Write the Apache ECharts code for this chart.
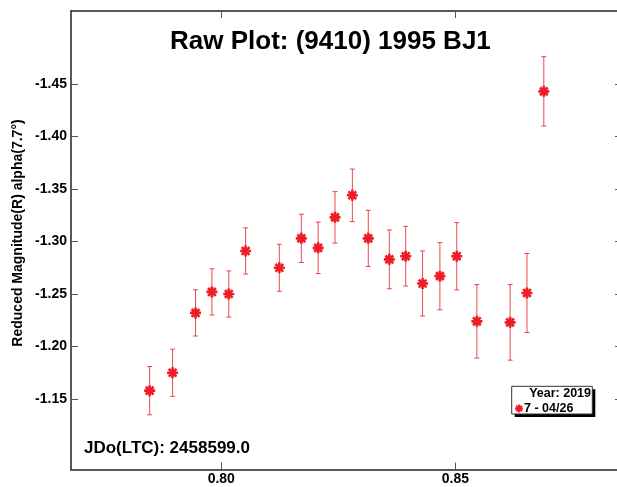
<!DOCTYPE html>
<html>
<head>
<meta charset="utf-8">
<script src="https://cdn.jsdelivr.net/npm/echarts@6/dist/echarts.min.js"></script>
<style>
  html, body { margin: 0; padding: 0; background: #fff; }
  #chart { width: 617px; height: 487px; }
</style>
</head>
<body>
<div id="chart"></div>
<script>
// phase (fraction of JD) and reduced magnitude
var phase = [0.7847, 0.7896, 0.7945, 0.7980, 0.8016, 0.8052, 0.8124, 0.8171, 0.8207, 0.8243, 0.8280,
             0.8314, 0.8359, 0.8394, 0.8430, 0.8467, 0.8503, 0.8546, 0.8617, 0.8653, 0.8689];
var mag = [-1.158, -1.175, -1.232, -1.252, -1.250, -1.291, -1.275, -1.303, -1.294, -1.323, -1.344,
           -1.303, -1.283, -1.286, -1.260, -1.267, -1.286, -1.224, -1.223, -1.251, -1.443];
var err = [0.023, 0.0225, 0.022, 0.022, 0.022, 0.022, 0.0224, 0.023, 0.0245, 0.0245, 0.025,
           0.0267, 0.028, 0.0284, 0.031, 0.032, 0.032, 0.035, 0.036, 0.0376, 0.033];
var yTicks = [-1.45, -1.40, -1.35, -1.30, -1.25, -1.20, -1.15];
var xTicks = [0.80, 0.85];

var starPath = 'path://M5,1.2L-5,1.2L-5,-1.2L5,-1.2Z' +
    'M-1.2,5L-1.2,-5L1.2,-5L1.2,5Z' +
    'M2.69,4.38L-4.38,-2.69L-2.69,-4.38L4.38,2.69Z' +
    'M-4.38,2.69L2.69,-4.38L4.38,-2.69L-2.69,4.38Z';
var red = '#ee1c25';
var font = '"Liberation Sans", Arial, sans-serif';

var points = [];
var bars = [];
for (var i = 0; i < phase.length; i++) {
    points.push([phase[i], mag[i]]);
    bars.push([phase[i], mag[i] - err[i], mag[i] + err[i]]);
}

var chart = echarts.init(document.getElementById('chart'));
var axisLine = { show: true, lineStyle: { color: '#222', width: 1.5 } };
var tick = { show: true, inside: true, length: 7, lineStyle: { color: '#555' } };

chart.setOption({
    backgroundColor: '#fff',
    animation: false,
    title: {
        text: 'Raw Plot: (9410) 1995 BJ1',
        left: 170, top: 29,
        padding: 0,
        textStyle: { fontFamily: font, fontSize: 26, fontWeight: 'bold', color: '#000' }
    },
    grid: { left: 71, top: 11, width: 551, height: 458.5, outerBoundsMode: 'none', containLabel: false },
    xAxis: [
        {
            type: 'value', min: 0.7679, max: 0.8856,
            axisLine: axisLine,
            axisTick: Object.assign({ customValues: xTicks }, tick),
            axisLabel: {
                customValues: xTicks, margin: 3,
                formatter: function (v) { return v.toFixed(2); },
                fontFamily: font, fontSize: 14, fontWeight: 'bold', color: '#000'
            },
            splitLine: { show: false }
        },
        {
            type: 'value', position: 'top', min: 0.7679, max: 0.8856,
            axisLine: axisLine,
            axisTick: Object.assign({ customValues: xTicks }, tick),
            axisLabel: { show: false },
            splitLine: { show: false }
        }
    ],
    yAxis: [
        {
            type: 'value', inverse: true, min: -1.5195, max: -1.0829,
            axisLine: axisLine,
            axisTick: Object.assign({ customValues: yTicks }, tick),
            axisLabel: {
                customValues: yTicks, margin: 4,
                formatter: function (v) { return v.toFixed(2); },
                fontFamily: font, fontSize: 14, fontWeight: 'bold', color: '#000'
            },
            splitLine: { show: false }
        },
        {
            type: 'value', position: 'right', inverse: true, min: -1.5195, max: -1.0829,
            axisLine: axisLine,
            axisTick: Object.assign({ customValues: yTicks }, tick),
            axisLabel: { show: false },
            splitLine: { show: false }
        }
    ],
    legend: {
        left: 515, top: 402,
        padding: 0,
        itemWidth: 8, itemHeight: 8,
        data: [{ name: '7 - 04/26', icon: starPath, itemStyle: { opacity: 1 } }],
        textStyle: { fontFamily: font, fontSize: 12.5, fontWeight: 'bold', color: '#000', padding: [0, 0, 0, -4] },
        z: 10
    },
    graphic: [
        { type: 'rect', shape: { x: 514.7, y: 389.3, width: 80.6, height: 27.7 }, style: { fill: '#000' }, z: 5 },
        { type: 'rect', shape: { x: 511.7, y: 386.3, width: 80.6, height: 27.7 }, style: { fill: '#fff', stroke: '#333', lineWidth: 1 }, z: 6 },
        { type: 'text', x: 591, y: 393.5, z: 7,
          style: { text: 'Year: 2019', align: 'right', verticalAlign: 'middle', font: 'bold 12.5px ' + font, fill: '#000' } },
        { type: 'text', x: 84, y: 448, z: 7,
          style: { text: 'JDo(LTC): 2458599.0', align: 'left', verticalAlign: 'middle', font: 'bold 17px ' + font, fill: '#000' } },
        { type: 'text', x: 18, y: 233, rotation: Math.PI / 2, z: 7,
          style: { text: 'Reduced Magnitude(R) alpha(7.7°)', align: 'center', verticalAlign: 'middle', font: 'bold 14px ' + font, fill: '#000' } }
    ],
    series: [
        {
            name: 'errors',
            type: 'custom',
            data: bars,
            renderItem: function (params, api) {
                var x = api.value(0);
                var lo = api.coord([x, api.value(1)]);
                var hi = api.coord([x, api.value(2)]);
                var st = { stroke: 'rgba(232,40,50,0.85)', lineWidth: 1 };
                return {
                    type: 'group',
                    children: [
                        { type: 'line', shape: { x1: lo[0], y1: lo[1], x2: hi[0], y2: hi[1] }, style: st },
                        { type: 'line', shape: { x1: lo[0] - 2.5, y1: lo[1], x2: lo[0] + 2.5, y2: lo[1] }, style: st },
                        { type: 'line', shape: { x1: hi[0] - 2.5, y1: hi[1], x2: hi[0] + 2.5, y2: hi[1] }, style: st }
                    ]
                };
            },
            z: 2
        },
        {
            name: '7 - 04/26',
            type: 'scatter',
            data: points,
            symbol: starPath,
            symbolSize: 11,
            itemStyle: { color: red, opacity: 1 },
            z: 3
        }
    ]
});
</script>
</body>
</html>
